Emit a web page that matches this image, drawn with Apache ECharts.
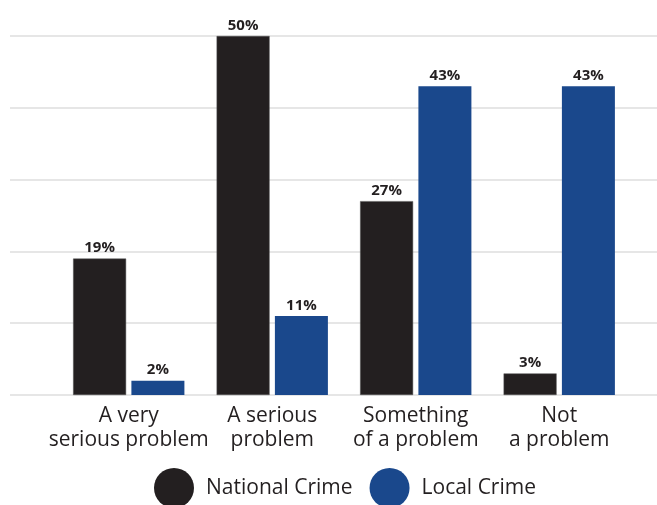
<!DOCTYPE html>
<html>
<head>
<meta charset="utf-8">
<script src="https://cdn.jsdelivr.net/npm/echarts@6/dist/echarts.min.js"></script>
<style>
  html, body { margin: 0; padding: 0; background: #fff; }
  #main { width: 657px; height: 505px; }
</style>
</head>
<body>
<div id="main"></div>
<script>
// data
const categories = ['A very\nserious problem', 'A serious\nproblem', 'Something\nof a problem', 'Not\na problem']
const nationalCrime = [19, 50, 27, 3]
const localCrime = [2, 11, 43, 43]
const yTicks = [0, 10, 20, 30, 40, 50]

const DARK = '#231f20'
const BLUE = '#1a488c'
const FONT = '"Open Sans", "Noto Sans", sans-serif'

const chart = echarts.init(document.getElementById('main'))

const barLabel = {
  show: true,
  position: 'top',
  distance: 3,
  formatter: '{c}%',
  color: DARK,
  fontFamily: FONT,
  fontWeight: 'bold',
  fontSize: 15
}

chart.setOption({
  backgroundColor: '#fff',
  animation: false,
  legend: {
    left: 149,
    top: 463,
    padding: 5,
    icon: 'circle',
    itemWidth: 40,
    itemHeight: 40,
    itemGap: 17,
    itemStyle: { borderWidth: 0 },
    textStyle: { color: DARK, fontFamily: FONT, fontSize: 21, padding: [0, 0, 0, 7] },
    data: ['National Crime', 'Local Crime']
  },
  grid: [
    // background grid for the wide gridlines
    { left: 10, right: 0, top: 36, bottom: 110 },
    { left: 57, right: 26, top: 36, bottom: 110 }
  ],
  xAxis: [
    { gridIndex: 0, type: 'value', show: false, min: 0, max: 1 },
    {
      gridIndex: 1,
      type: 'category',
      data: categories,
      axisLine: { show: false },
      axisTick: { show: false },
      axisLabel: {
        color: DARK,
        fontFamily: FONT,
        fontSize: 21,
        lineHeight: 24,
        margin: 9,
        interval: 0
      }
    }
  ],
  yAxis: [
    {
      gridIndex: 0,
      type: 'value',
      min: yTicks[0],
      max: yTicks[yTicks.length - 1],
      interval: 10,
      axisLine: { show: false },
      axisTick: { show: false },
      axisLabel: { show: false },
      splitLine: { lineStyle: { color: '#e6e6e6', width: 2 } }
    },
    {
      gridIndex: 1,
      type: 'value',
      min: yTicks[0],
      max: yTicks[yTicks.length - 1],
      interval: 10,
      show: false,
      splitLine: { show: false }
    }
  ],
  series: [
    {
      name: 'National Crime',
      type: 'bar',
      xAxisIndex: 1,
      yAxisIndex: 1,
      data: nationalCrime,
      barWidth: 53,
      barGap: '10%',
      itemStyle: { color: DARK, borderColor: '#555', borderWidth: 0.5 },
      label: barLabel
    },
    {
      name: 'Local Crime',
      type: 'bar',
      xAxisIndex: 1,
      yAxisIndex: 1,
      data: localCrime,
      barWidth: 53,
      itemStyle: { color: BLUE },
      label: barLabel
    }
  ]
})
</script>
</body>
</html>
